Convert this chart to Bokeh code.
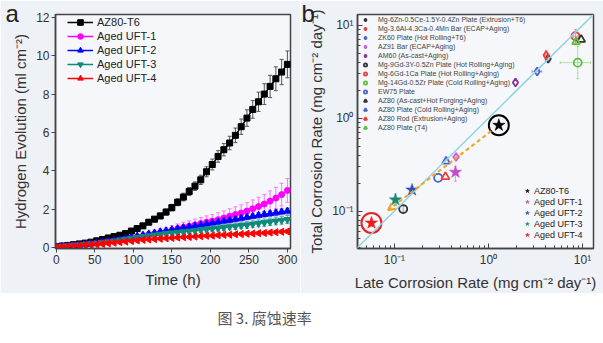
from bokeh.plotting import figure
from bokeh.layouts import column, row
from bokeh.models import (ColumnDataSource, Whisker, TeeHead, Legend, LegendItem, Label, Title,
                          CustomJSTickFormatter, Arrow, OpenHead, Slope)
from bokeh.embed import file_html
from bokeh.resources import INLINE
import math

FONT = "Liberation Sans"

# ---------------- panel a data ----------------
time_h = [0, 7.5, 15, 22.5, 30, 37.5, 45, 52.5, 60, 67.5, 75, 82.5, 90, 97.5, 105, 112.5, 120,
          127.5, 135, 142.5, 150, 157.5, 165, 172.5, 180, 187.5, 195, 202.5, 210, 217.5, 225,
          232.5, 240, 247.5, 255, 262.5, 270, 277.5, 285, 292.5, 300]
h2_az80_t6 = [0.05, 0.08, 0.11, 0.15, 0.19, 0.23, 0.28, 0.35, 0.42, 0.5, 0.57, 0.64, 0.73, 0.86,
              0.99, 1.13, 1.32, 1.48, 1.65, 1.85, 2.08, 2.36, 2.63, 2.92, 3.2, 3.53, 3.95, 4.33,
              4.75, 5.1, 5.45, 5.85, 6.3, 6.75, 7.2, 7.6, 8.0, 8.4, 8.8, 9.15, 9.55]
h2_uft1 = [0.03, 0.05, 0.08, 0.11, 0.14, 0.17, 0.2, 0.24, 0.27, 0.31, 0.35, 0.4, 0.44, 0.49, 0.54,
           0.6, 0.66, 0.71, 0.77, 0.83, 0.9, 0.98, 1.05, 1.11, 1.18, 1.25, 1.32, 1.38, 1.45, 1.54,
           1.63, 1.72, 1.8, 1.9, 2.02, 2.14, 2.27, 2.42, 2.58, 2.76, 2.98]
h2_uft2 = [0.03, 0.05, 0.08, 0.1, 0.13, 0.16, 0.19, 0.23, 0.27, 0.32, 0.37, 0.42, 0.48, 0.54, 0.6,
           0.65, 0.71, 0.76, 0.82, 0.87, 0.93, 0.98, 1.03, 1.08, 1.13, 1.18, 1.23, 1.28, 1.33,
           1.38, 1.43, 1.48, 1.53, 1.58, 1.63, 1.68, 1.73, 1.77, 1.81, 1.86, 1.9]
h2_uft3 = [0.03, 0.05, 0.07, 0.1, 0.12, 0.15, 0.18, 0.21, 0.25, 0.29, 0.33, 0.38, 0.43, 0.48, 0.53,
           0.57, 0.61, 0.65, 0.69, 0.73, 0.76, 0.79, 0.82, 0.85, 0.88, 0.92, 0.95, 0.98, 1.01,
           1.04, 1.08, 1.11, 1.15, 1.18, 1.22, 1.26, 1.3, 1.34, 1.38, 1.42, 1.46]
h2_uft4 = [0.02, 0.04, 0.06, 0.08, 0.1, 0.12, 0.14, 0.17, 0.19, 0.22, 0.25, 0.28, 0.31, 0.34, 0.37,
           0.4, 0.42, 0.44, 0.46, 0.48, 0.5, 0.52, 0.54, 0.55, 0.57, 0.59, 0.61, 0.62, 0.64, 0.66,
           0.67, 0.69, 0.7, 0.72, 0.73, 0.75, 0.76, 0.78, 0.8, 0.82, 0.84]
err_az80_t6 = [0.02, 0.02, 0.02, 0.03, 0.03, 0.03, 0.04, 0.04, 0.05, 0.06, 0.07, 0.08, 0.09, 0.1,
               0.11, 0.12, 0.13, 0.14, 0.15, 0.16, 0.17, 0.18, 0.2, 0.21, 0.22, 0.24, 0.26, 0.28,
               0.3, 0.32, 0.35, 0.38, 0.4, 0.43, 0.46, 0.5, 0.54, 0.58, 0.62, 0.66, 0.7]
err_uft1 = [0.01, 0.02, 0.03, 0.04, 0.05, 0.06, 0.07, 0.08, 0.09, 0.1, 0.11, 0.12, 0.13, 0.14, 0.16,
            0.17, 0.18, 0.2, 0.21, 0.22, 0.24, 0.25, 0.27, 0.28, 0.3, 0.31, 0.33, 0.34, 0.36, 0.37,
            0.39, 0.4, 0.42, 0.44, 0.46, 0.48, 0.5, 0.53, 0.56, 0.59, 0.62]
err_uft2 = [0.01, 0.01, 0.02, 0.02, 0.03, 0.03, 0.03, 0.04, 0.04, 0.05, 0.05, 0.05, 0.06, 0.06, 0.07,
            0.07, 0.07, 0.08, 0.08, 0.09, 0.09, 0.09, 0.1, 0.1, 0.1, 0.11, 0.11, 0.11, 0.12, 0.12,
            0.12, 0.13, 0.13, 0.13, 0.13, 0.14, 0.14, 0.14, 0.15, 0.15, 0.15]
err_uft3 = [0.01, 0.01, 0.02, 0.02, 0.03, 0.03, 0.04, 0.04, 0.05, 0.05, 0.06, 0.06, 0.07, 0.07, 0.08,
            0.08, 0.09, 0.09, 0.1, 0.1, 0.11, 0.11, 0.12, 0.12, 0.13, 0.13, 0.14, 0.14, 0.15, 0.15,
            0.16, 0.16, 0.17, 0.17, 0.18, 0.18, 0.19, 0.19, 0.2, 0.2, 0.21]
err_uft4 = [0.01, 0.01, 0.01, 0.01, 0.02, 0.02, 0.02, 0.02, 0.03, 0.03, 0.03, 0.03, 0.04, 0.04, 0.04,
            0.04, 0.05, 0.05, 0.05, 0.05, 0.05, 0.06, 0.06, 0.06, 0.06, 0.06, 0.07, 0.07, 0.07, 0.07,
            0.07, 0.08, 0.08, 0.08, 0.08, 0.08, 0.09, 0.09, 0.09, 0.09, 0.1]
series_names = ["AZ80-T6", "Aged UFT-1", "Aged UFT-2", "Aged UFT-3", "Aged UFT-4"]

# ---------------- panel b data ----------------
star_late = [1.29, 0.446, 0.154, 0.1026, 0.057]
star_total = [0.84, 0.262, 0.169, 0.132, 0.0745]
star_total_lo = [0.84, 0.21, 0.155, 0.114, 0.068]
star_total_hi = [0.84, 0.303, 0.185, 0.152, 0.082]

lit_names = [
    "Mg-6Zn-0.5Ce-1.5Y-0.4Zn Plate (Extrusion+T6)",
    "Mg-3.6Al-4.3Ca-0.4Mn Bar (ECAP+Aging)",
    "ZK60 Plate (Hot Rolling+T6)",
    "AZ91 Bar (ECAP+Aging)",
    "AM60 (As-cast+Aging)",
    "Mg-9Gd-3Y-0.5Zn Plate (Hot Rolling+Aging)",
    "Mg-6Gd-1Ca Plate (Hot Rolling+Aging)",
    "Mg-14Gd-0.5Zr Plate (Cold Rolling+Aging)",
    "EW75 Plate",
    "AZ80 (As-cast+Hot Forging+Aging)",
    "AZ80 Plate (Cold Rolling+Aging)",
    "AZ80 Rod (Extrusion+Aging)",
    "AZ80 Plate (T4)",
]
lit_late = [4.32, 4.11, 3.3, 0.453, 1.94, 0.124, 8.43, 8.91, 0.292, 9.68, 0.355, 0.349, 8.55]
lit_total = [4.38, 4.76, 3.19, 0.382, 2.43, 0.105, 7.64, 3.97, 0.228, 7.05, 0.343, 0.234, 6.64]
lit_late_lo = [4.32, 3.9, 2.91, 0.42, 1.94, 0.124, 8.0, 5.8, 0.292, 9.68, 0.355, 0.349, 8.55]
lit_late_hi = [4.32, 4.3, 3.71, 0.49, 1.94, 0.124, 8.9, 12.2, 0.292, 9.68, 0.355, 0.349, 8.55]
lit_total_lo = [4.0, 4.14, 3.19, 0.36, 2.43, 0.097, 6.44, 2.66, 0.228, 7.05, 0.343, 0.234, 6.2]
lit_total_hi = [4.8, 5.38, 3.19, 0.40, 2.43, 0.114, 9.07, 5.96, 0.228, 7.05, 0.343, 0.234, 7.1]

caption = "图 3. 腐蚀速率"

# ---------------- styles ----------------
a_colors = ["#000000", "#ff00ff", "#0000ff", "#0f8a7a", "#ff0000"]
a_err_colors = ["#555555", "#ff77ff", "#5555ff", "#4fb0a0", "#ff6060"]
a_markers = ["square", "circle", "triangle", "inverted_triangle", "triangle"]
a_angles = [0, 0, 0, 0, math.pi / 2]
a_sizes = [6, 6, 7, 7, 7]
star_colors = ["#000000", "#c848c8", "#2f4fbf", "#148a78", "#f01818"]
lit_markers = ["diamond"] * 5 + ["circle"] * 4 + ["triangle"] * 4
lit_colors = ["#333333", "#f03c3c", "#4a64c8", "#d060d0", "#8a2f9a", "#333333", "#f03c3c",
              "#5cbf3c", "#4a64c8", "#333333", "#4a64c8", "#f03c3c", "#5cbf3c"]

BORDER = "#eef1f5"
BG = "#f5f7fa"


def style_axes(p):
    p.grid.visible = False
    p.outline_line_color = "#444444"
    p.outline_line_width = 1.5
    for ax in (p.xaxis[0], p.yaxis[0]):
        ax.axis_label_text_font = FONT
        ax.axis_label_text_font_size = "15px"
        ax.axis_label_text_font_style = "normal"
        ax.axis_label_text_color = "#333333"
        ax.major_label_text_font = FONT
        ax.major_label_text_font_size = "12px"
        ax.major_label_text_color = "#333333"
        ax.axis_line_color = "#444444"
        ax.axis_line_width = 1.5
        ax.major_tick_line_color = "#444444"
        ax.minor_tick_line_color = "#444444"


def panel_title(letter, offset):
    return Title(text=letter, align="left", vertical_align="top", offset=offset,
                 standoff=-28, text_font=FONT, text_font_size="24px",
                 text_font_style="normal", text_color="#222222")


# ---------------- panel a ----------------
pa = figure(width=300, height=293, output_backend="svg", toolbar_location=None,
            x_range=(-1, 304), y_range=(-0.05, 12.15),
            min_border_left=55, min_border_right=10, min_border_top=14, min_border_bottom=43,
            border_fill_color=BORDER, background_fill_color=BG)
pa.title = panel_title("a", -50)
style_axes(pa)
pa.xaxis.axis_label = "Time (h)"
pa.yaxis.axis_label = "Hydrogen Evolution (ml cm⁻²)"
pa.xaxis.ticker = [0, 50, 100, 150, 200, 250, 300]
pa.yaxis.ticker = [0, 2, 4, 6, 8, 10, 12]
for ax in (pa.xaxis[0], pa.yaxis[0]):
    ax.major_tick_out = 4
    ax.major_tick_in = 0
    ax.minor_tick_out = 0
    ax.minor_tick_in = 0
    ax.major_label_standoff = 2
    ax.axis_label_standoff = 4

all_vals = [h2_az80_t6, h2_uft1, h2_uft2, h2_uft3, h2_uft4]
all_errs = [err_az80_t6, err_uft1, err_uft2, err_uft3, err_uft4]
legend_items_a = []
for i, name in enumerate(series_names):
    vals = all_vals[i]
    errs = all_errs[i]
    src = ColumnDataSource(dict(x=time_h, y=vals,
                                lo=[v - e for v, e in zip(vals, errs)],
                                hi=[v + e for v, e in zip(vals, errs)]))
    wh = Whisker(source=src, base="x", lower="lo", upper="hi", line_color=a_err_colors[i],
                 line_width=1,
                 upper_head=TeeHead(size=4, line_color=a_err_colors[i], line_width=1),
                 lower_head=TeeHead(size=4, line_color=a_err_colors[i], line_width=1))
    pa.add_layout(wh)
    lr = pa.line("x", "y", source=src, line_color=a_colors[i], line_width=1.5)
    sr = pa.scatter("x", "y", source=src, marker=a_markers[i], size=a_sizes[i],
                    angle=a_angles[i], fill_color=a_colors[i], line_color=a_colors[i])
    legend_items_a.append(LegendItem(label=name, renderers=[lr, sr]))

leg_a = Legend(items=legend_items_a, location=(10, 161), margin=0, padding=2, spacing=0,
               glyph_width=26, glyph_height=14, label_height=14, label_standoff=4,
               label_text_font=FONT, label_text_font_size="11px", label_text_color="#222222",
               background_fill_alpha=0, border_line_alpha=0)
pa.add_layout(leg_a, "center")

# ---------------- panel b ----------------
pb = figure(width=303, height=293, output_backend="svg", toolbar_location=None,
            x_axis_type="log", y_axis_type="log",
            x_range=(0.0405, 13.1), y_range=(0.0395, 13.1),
            min_border_left=57, min_border_right=10, min_border_top=13, min_border_bottom=43,
            border_fill_color=BORDER, background_fill_color=BG)
pb.title = panel_title("b", -56)
style_axes(pb)
pb.xaxis.axis_label = "Late Corrosion Rate (mg cm⁻² day⁻¹)"
pb.yaxis.axis_label = "Total Corrosion Rate (mg cm⁻² day⁻¹)"
fmt_code = """
const e = Math.round(Math.log10(tick));
const sup = {'-': '\u207b', '0': '\u2070', '1': '\u00b9', '2': '\u00b2', '3': '\u00b3'};
return '10' + String(e).split('').map(c => sup[c]).join('');
"""
for ax in (pb.xaxis[0], pb.yaxis[0]):
    ax.formatter = CustomJSTickFormatter(code=fmt_code)
    ax.major_tick_out = 0
    ax.major_tick_in = 5
    ax.minor_tick_out = 0
    ax.minor_tick_in = 3
    ax.major_label_standoff = 4
    ax.axis_label_standoff = 4

pb.add_layout(Slope(gradient=1, y_intercept=0, line_color="#8fd4e0", line_width=1.5))

# literature points
lit_items = []
for i, name in enumerate(lit_names):
    src = ColumnDataSource(dict(x=[lit_late[i]], y=[lit_total[i]],
                                xl=[lit_late_lo[i]], xh=[lit_late_hi[i]],
                                yl=[lit_total_lo[i]], yh=[lit_total_hi[i]]))
    if lit_late_hi[i] > lit_late_lo[i]:
        pb.add_layout(Whisker(source=src, base="y", lower="xl", upper="xh", dimension="width",
                              line_color=lit_colors[i], line_alpha=0.45, line_width=1,
                              upper_head=TeeHead(size=3, line_color=lit_colors[i], line_alpha=0.45),
                              lower_head=TeeHead(size=3, line_color=lit_colors[i], line_alpha=0.45)))
    if lit_total_hi[i] > lit_total_lo[i]:
        pb.add_layout(Whisker(source=src, base="x", lower="yl", upper="yh", dimension="height",
                              line_color=lit_colors[i], line_alpha=0.45, line_width=1,
                              upper_head=TeeHead(size=3, line_color=lit_colors[i], line_alpha=0.45),
                              lower_head=TeeHead(size=3, line_color=lit_colors[i], line_alpha=0.45)))
    r = pb.scatter("x", "y", source=src, marker=lit_markers[i], size=8, fill_color=None,
                   line_color=lit_colors[i], line_width=1.8)
    lit_items.append(LegendItem(label=name, renderers=[r]))

# trend arrow from AZ80-T6 toward Aged UFT-4
lx0, ly0 = math.log10(star_late[0]), math.log10(star_total[0])
lx1, ly1 = math.log10(star_late[4]), math.log10(star_total[4])
f0, f1 = 0.06, 0.87
pb.add_layout(Arrow(x_start=10 ** (lx0 + f0 * (lx1 - lx0)), y_start=10 ** (ly0 + f0 * (ly1 - ly0)),
                    x_end=10 ** (lx0 + f1 * (lx1 - lx0)), y_end=10 ** (ly0 + f1 * (ly1 - ly0)),
                    line_color="#f2a21e", line_width=2, line_dash="4 3",
                    end=OpenHead(size=7, line_color="#f2a21e", line_width=2)))

# stars
star_items = []
for i, name in enumerate(series_names):
    src = ColumnDataSource(dict(x=[star_late[i]], y=[star_total[i]],
                                yl=[star_total_lo[i]], yh=[star_total_hi[i]]))
    if star_total_hi[i] > star_total_lo[i]:
        pb.add_layout(Whisker(source=src, base="x", lower="yl", upper="yh", dimension="height",
                              line_color=star_colors[i], line_alpha=0.5, line_width=1,
                              upper_head=TeeHead(size=3, line_color=star_colors[i], line_alpha=0.5),
                              lower_head=TeeHead(size=3, line_color=star_colors[i], line_alpha=0.5)))
    r = pb.scatter("x", "y", source=src, marker="star", size=13, fill_color=star_colors[i],
                   line_color=star_colors[i], line_width=0.5)
    star_items.append(LegendItem(label=name, renderers=[r]))

# highlight circles
pb.scatter(x=[star_late[0]], y=[star_total[0]], marker="circle", size=20, fill_color=None,
           line_color="#000000", line_width=2)
pb.scatter(x=[star_late[4]], y=[star_total[4]], marker="circle", size=20, fill_color=None,
           line_color="#ee1c1c", line_width=2)

leg_b1 = Legend(items=lit_items, location=(3, 115), margin=0, padding=1, spacing=0,
                glyph_width=8, glyph_height=9, label_height=9, label_standoff=9,
                label_text_font=FONT, label_text_font_size="7px", label_text_color="#444444",
                background_fill_alpha=0, border_line_alpha=0)
leg_b2 = Legend(items=star_items, location=(164, 7), margin=0, padding=1, spacing=0,
                glyph_width=10, glyph_height=11, label_height=11, label_standoff=2,
                label_text_font=FONT, label_text_font_size="9px", label_text_color="#222222",
                background_fill_alpha=0, border_line_alpha=0)
pb.add_layout(leg_b1, "center")
pb.add_layout(leg_b2, "center")

# ---------------- caption ----------------
pc = figure(width=603, height=50, output_backend="svg", toolbar_location=None,
            x_range=(0, 603), y_range=(0, 50), x_axis_location=None, y_axis_location=None,
            min_border=0, border_fill_color="#ffffff", background_fill_color="#ffffff")
pc.grid.visible = False
pc.outline_line_color = None
pc.add_layout(Label(x=217, y=26, text=caption, text_font="Noto Sans CJK SC",
                    text_font_size="15px", text_color="#555555", text_baseline="middle"))

layout = column(row(pa, pb, spacing=0), pc, spacing=0)
open("out.html", "w").write(file_html(layout, INLINE))
